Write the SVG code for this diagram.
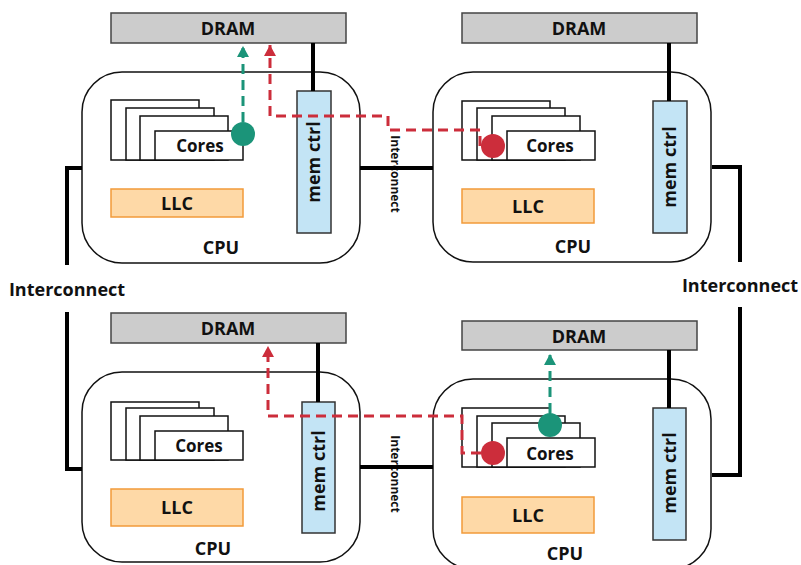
<svg xmlns="http://www.w3.org/2000/svg" width="801" height="565" viewBox="0 0 801 565">
<style>
text{font-family:"Open Sans","Noto Sans","DejaVu Sans",sans-serif;font-weight:bold;fill:#111;text-anchor:middle;dominant-baseline:central}
.cpu{fill:#fff;stroke:#111;stroke-width:1.5}
.dram{fill:#cccccc;stroke:#444;stroke-width:1.5}
.mc{fill:#c3e4f5;stroke:#333;stroke-width:1.5}
.llc{fill:#fed9a7;stroke:#f29a3a;stroke-width:1.5}
.core{fill:#fff;stroke:#111;stroke-width:1.5}
.t18{font-size:18px}
.t17{font-size:17px}
.small{font-size:12px}
.bus{fill:none;stroke:#000;stroke-width:4}
.red{fill:none;stroke:#cc2d3b;stroke-width:3;stroke-dasharray:10 6}
.green{fill:none;stroke:#1b9479;stroke-width:3;stroke-dasharray:10 6}
</style>
<defs>
<marker id="ar" markerUnits="userSpaceOnUse" markerWidth="12" markerHeight="12" refX="11" refY="6" orient="auto" viewBox="0 0 12 12">
<path d="M0,0 L11,6 L0,12 Z" fill="#cc2d3b"/>
</marker>
<marker id="ag" markerUnits="userSpaceOnUse" markerWidth="12" markerHeight="12" refX="11" refY="6" orient="auto" viewBox="0 0 12 12">
<path d="M0,0 L11,6 L0,12 Z" fill="#1b9479"/>
</marker>
</defs>

<g id="dram-tl"><rect class="dram" x="111" y="13" width="235" height="30"/><text class="t18" x="228" y="28">DRAM</text></g>
<g id="dram-tr"><rect class="dram" x="462" y="13" width="235" height="30"/><text class="t18" x="579" y="28">DRAM</text></g>
<g id="dram-bl"><rect class="dram" x="111" y="313" width="235" height="30"/><text class="t18" x="228" y="328">DRAM</text></g>
<g id="dram-br"><rect class="dram" x="462" y="321" width="235" height="29"/><text class="t18" x="579" y="336">DRAM</text></g>

<g id="cpu-tl">
<rect class="cpu" x="82" y="72" width="278" height="191" rx="40"/>
<text class="t18" x="221" y="247">CPU</text>
<rect class="core" x="111" y="100" width="88" height="60"/>
<rect class="core" x="126" y="108" width="88" height="52"/>
<rect class="core" x="140" y="116" width="88" height="44"/>
<rect class="core" x="155" y="131" width="88" height="29"/>
<text class="t17" x="200" y="145">Cores</text>
<rect class="llc" x="111" y="189" width="132" height="28"/>
<text class="t18" x="177" y="203">LLC</text>
<rect class="mc" x="297" y="91" width="34" height="142"/>
<text class="t18" transform="translate(313,162) rotate(-90)">mem ctrl</text>
</g>

<g id="cpu-tr">
<rect class="cpu" x="433" y="72" width="278" height="190" rx="40"/>
<text class="t18" x="573" y="246">CPU</text>
<rect class="core" x="462" y="101" width="88" height="59"/>
<rect class="core" x="477" y="108" width="88" height="52"/>
<rect class="core" x="492" y="116" width="88" height="44"/>
<rect class="core" x="507" y="131" width="88" height="29"/>
<text class="t17" x="550" y="145">Cores</text>
<rect class="llc" x="462" y="189" width="132" height="34"/>
<text class="t18" x="528" y="206">LLC</text>
<rect class="mc" x="653" y="101" width="34" height="132"/>
<text class="t18" transform="translate(669,167) rotate(-90)">mem ctrl</text>
</g>

<g id="cpu-bl">
<rect class="cpu" x="82" y="372" width="278" height="190" rx="40"/>
<text class="t18" x="213" y="548">CPU</text>
<rect class="core" x="111" y="402" width="88" height="58"/>
<rect class="core" x="126" y="408" width="88" height="52"/>
<rect class="core" x="140" y="416" width="88" height="44"/>
<rect class="core" x="155" y="431" width="88" height="29"/>
<text class="t17" x="199" y="445">Cores</text>
<rect class="llc" x="111" y="489" width="132" height="37"/>
<text class="t18" x="177" y="507">LLC</text>
<rect class="mc" x="302" y="402" width="33" height="131"/>
<text class="t18" transform="translate(318,471) rotate(-90)">mem ctrl</text>
</g>

<g id="cpu-br">
<rect class="cpu" x="433" y="379" width="278" height="190" rx="40"/>
<text class="t18" x="565" y="553">CPU</text>
<rect class="core" x="462" y="408" width="88" height="59"/>
<rect class="core" x="477" y="416" width="88" height="51"/>
<rect class="core" x="492" y="423" width="88" height="44"/>
<rect class="core" x="507" y="438" width="88" height="29"/>
<text class="t17" x="550" y="453">Cores</text>
<rect class="llc" x="462" y="497" width="132" height="36"/>
<text class="t18" x="528" y="515">LLC</text>
<rect class="mc" x="653" y="408" width="33" height="132"/>
<text class="t18" transform="translate(669,473) rotate(-90)">mem ctrl</text>
</g>

<g id="labels">
<text class="t18" x="67" y="289">Interconnect</text>
<text class="t18" x="740" y="285">Interconnect</text>
<text class="small" transform="translate(395,174) rotate(90)">Interconnect</text>
<text class="small" transform="translate(395,474) rotate(90)">Interconnect</text>
</g>

<g id="connectors">
<path class="bus" d="M313,43 V91"/>
<path class="bus" d="M669,43 V101"/>
<path class="bus" d="M318,343 V402"/>
<path class="bus" d="M669,350 V408"/>
<path class="bus" d="M82,168 H67 V265"/>
<path class="bus" d="M67,312 V469 H82"/>
<path class="bus" d="M360,168 H433"/>
<path class="bus" d="M360,467 H433"/>
<path class="bus" d="M712,167 H740 V262"/>
<path class="bus" d="M740,307 V475 H712"/>
<path class="green" d="M243,122 V46" marker-end="url(#ag)"/>
<path class="red" d="M480,146 V130 H388 V116 H270 V45" marker-end="url(#ar)"/>
<path class="red" d="M481,453 H462 V416 H268 V346" marker-end="url(#ar)"/>
<path class="green" d="M550,413 V354" marker-end="url(#ag)"/>
<circle cx="243" cy="134" r="12" fill="#1b9479"/>
<circle cx="493" cy="146" r="12" fill="#cc2d3b"/>
<circle cx="493" cy="453" r="12" fill="#cc2d3b"/>
<circle cx="550" cy="425" r="12" fill="#1b9479"/>
</g>
</svg>
